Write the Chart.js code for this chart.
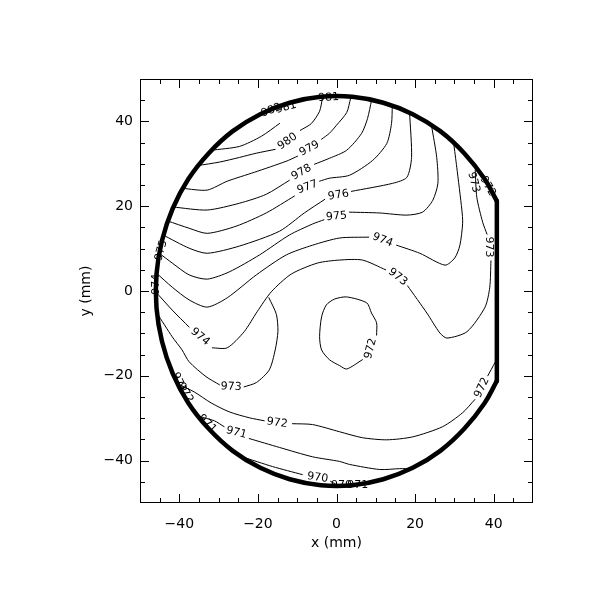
<!DOCTYPE html>
<html>
<head>
<meta charset="utf-8">
<script src="https://cdn.jsdelivr.net/npm/chart.js@4.4.0/dist/chart.umd.min.js"></script>
<style>
  html, body { margin: 0; padding: 0; background: #fff; }
</style>
</head>
<body>
<canvas id="chart_wafer" width="612" height="612"></canvas>
<script>
// wafer edge, mm
const outlineArc = [[40.8,21.2],[37.7,26.4],[32.5,32.5],[26.4,37.7],[19.4,41.7],[11.9,44.4],[4.0,45.8],[-4.0,45.8],[-11.9,44.4],[-19.4,41.7],[-26.4,37.7],[-32.5,32.5],[-37.7,26.4],[-41.7,19.4],[-44.4,11.9],[-45.8,4.0],[-45.8,-4.0],[-44.4,-11.9],[-41.7,-19.4],[-37.7,-26.4],[-32.5,-32.5],[-26.4,-37.7],[-19.4,-41.7],[-11.9,-44.4],[-4.0,-45.8],[4.0,-45.8],[11.9,-44.4],[19.4,-41.7],[26.4,-37.7],[32.5,-32.5],[37.7,-26.4],[40.8,-21.2]];
const outlineFlat = [[40.8,21.2],[40.8,-21.2]];

// contour lines (x, y in mm), split where the label sits
const c981 = [[[-31.9,33.2],[-24.7,34.1],[-19.1,36.5],[-14.5,39.5]]];
const c980 = [
  [[-35.2,29.6],[-29.8,30.4],[-24.7,31.5],[-20.4,32.5],[-15.6,33.4]],
  [[-9.2,37.9],[-6.4,39.5],[-4.3,42.4],[-3.6,45.4]]
];
const c979 = [
  [[-39.1,24.2],[-32.9,23.8],[-27.8,25.9],[-20.9,28.0],[-12.8,30.6],[-9.9,31.8]],
  [[-3.8,35.8],[-1.8,37.2],[0,39.1],[2.6,42.1],[3.6,45.5]]
];
const c978 = [
  [[-41.5,19.8],[-32.9,19.1],[-24.7,20.7],[-17.9,22.8],[-12.0,26.1]],
  [[-5.6,29.9],[-1.8,31.3],[2.6,33.2],[6.4,37.2],[7.9,40.7],[8.9,44.9]]
];
const c977 = [
  [[-42.9,16.5],[-37.5,14.8],[-32.9,13.6],[-25.5,15.3],[-17.9,18.4],[-10.7,22.4]],
  [[-4.3,25.9],[-1.8,26.6],[3.3,27.3],[9.2,30.8],[12.8,34.8],[14.0,39.5],[14.2,43.7]]
];
const c976 = [
  [[-44.1,13.2],[-37.5,10.1],[-32.9,8.9],[-24.7,10.6],[-14.5,14.1],[-8.2,18.4],[-3.0,21.6]],
  [[3.8,23.5],[14.3,25.4],[17.9,26.8],[19.1,31.5],[18.6,42.0]]
];
const c975 = [
  [[-45.1,8.9],[-41.8,6.6],[-37.5,3.8],[-32.9,2.8],[-27.3,4.5],[-19.6,8.5],[-12.0,13.2],[-6.1,15.8],[-3.2,16.8]],
  [[3.3,18.6],[11.0,18.4],[17.9,17.9],[21.9,18.6],[24.5,21.4],[25.8,25.4],[25.5,31.5],[24.2,38.9]]
];
const c974 = [
  [[-45.8,4.2],[-41.8,0.9],[-37.5,-2.1],[-32.9,-3.8],[-27.8,-1.6],[-20.4,3.8],[-12.8,8.5],[-6.1,10.8],[0.8,12.5],[8.2,12.7]],
  [[15.3,10.8],[21.2,8.9],[27.6,6.1],[30.1,7.8],[31.4,10.8],[32.1,16.0],[31.9,19.1],[30.6,29.2],[29.8,35.0]]
];
const c973 = [
  [[-46.0,-0.2],[-41.8,-4.5],[-37.5,-8.5]],
  [[-31.6,-13.4],[-27.8,-13.4],[-23.5,-9.6],[-20.2,-4.9],[-16.6,-0.2],[-11.5,4.0],[-4.8,6.6],[0.8,7.3],[6.6,7.3],[12.5,5.0]],
  [[18.1,1.2],[23.0,-5.2],[26.3,-9.9],[28.1,-11.1],[33.2,-9.6],[37.8,-3.8],[39.0,0.9],[39.3,7.1]],
  [[38.3,13.4],[37.2,16.2],[35.7,22.1],[35.3,28.5]]
];
const c973low = [
  [[-45.7,-5.2],[-41.8,-10.8],[-39.3,-13.9],[-37.5,-16.7],[-33.2,-20.2],[-29.8,-22.1]],
  [[-23.5,-22.6],[-20.4,-21.6],[-17.1,-18.6],[-15.6,-13.9],[-14.9,-9.5],[-15.3,-5.5],[-17.2,-1.6]]
];
const c972loop = [
  [[6.6,-16.2],[2.6,-18.4],[0.8,-17.6],[-1.8,-16.2],[-3.8,-13.9],[-4.3,-10.8],[-3.8,-6.1],[-2.6,-3.3],[-0.5,-1.9],[2.6,-1.4],[7.7,-2.8],[8.9,-5.2],[10.2,-7.5],[10.2,-10.4]]
];
const c972 = [
  [[40.8,-15.8],[40.3,-16.9],[38.5,-20.0]],
  [[35.2,-25.6],[32.1,-28.7],[27.0,-32.0],[19.4,-34.4],[12.8,-35.1],[6.6,-34.6],[0.8,-33.2],[-6.1,-31.5],[-11.2,-31.3]],
  [[-18.4,-30.6],[-22.2,-29.9],[-27.3,-28.5],[-31.9,-26.4],[-36.2,-23.8],[-40.2,-22.0]]
];
const c971 = [
  [[-35.0,-29.6],[-31.1,-30.6],[-28.6,-32.0]],
  [[-22.2,-34.8],[-14.5,-36.9],[-6.1,-39.1],[0.8,-40.2],[3.3,-40.9],[11.0,-42.1],[16.1,-41.9],[19.0,-41.9]]
];
const c970 = [
  [[-24.0,-39.1],[-16.3,-41.4],[-8.7,-43.3]],
  [[-1.5,-44.9],[-0.5,-45.4]]
];

// contour labels: text, x, y (mm)
const contourLabels = [
  ["982",-16.6,42.6],["981",-12.8,43.3],["981",-2.0,45.6],
  ["980",-12.5,35.3],["979",-6.9,33.6],["978",-8.9,28.0],["977",-7.4,24.5],
  ["976",0.5,22.6],["975",0.0,17.6],["974",11.7,12.0],["973",15.6,3.3],
  ["973",38.8,10.4],["973",34.9,25.6],["972",38.5,24.7],
  ["974",-34.7,-10.8],["973",-26.8,-22.6],["972",8.7,-13.6],
  ["972",-15.1,-31.1],["972",37.0,-22.8],["971",-25.5,-33.4],["970",-4.8,-44.0],
  ["975",-44.6,9.6],["974",-45.9,1.6],["973",-40.1,-21.6],["972",-38.5,-24.0],
  ["971",-32.9,-31.3],["970",1.3,-45.9],["971",5.4,-45.9]
];
const labelAngles = [-20,-15,-3,-35,-28,-30,-20,-10,-5,22,38,90,75,60,40,3,-75,8,-65,15,8,-75,-90,65,60,45,0,0];

const xTicks = [-40, -20, 0, 20, 40];
const yTicks = [-40, -20, 0, 20, 40];

const FONT = '"DejaVu Sans", sans-serif';

function pts(piece) {
  return piece.map(p => ({x: p[0], y: p[1]}));
}

function fmt(v) {
  return v < 0 ? '\u2212' + Math.abs(v) : String(v);
}

const contours = [c981, c980, c979, c978, c977, c976, c975, c974, c973, c973low, c972loop, c972, c971, c970];

let datasets = [
  {data: pts(outlineArc), borderWidth: 4.5, tension: 0.4},
  {data: pts(outlineFlat), borderWidth: 4.5, tension: 0}
];
contours.forEach(c => {
  c.forEach(piece => datasets.push({data: pts(piece), borderWidth: 1, tension: 0.25}));
});
datasets.forEach(d => {
  d.showLine = true;
  d.pointRadius = 0;
  d.borderColor = '#000';
  d.borderCapStyle = 'round';
  d.borderJoinStyle = 'round';
  d.fill = false;
});

// labels on the contours, box and inward ticks
const waferFrame = {
  id: 'waferFrame',
  afterDatasetsDraw(chart) {
    const {ctx, chartArea: a, scales: {x, y}} = chart;
    ctx.save();
    ctx.fillStyle = '#000';
    ctx.font = '11px ' + FONT;
    ctx.textAlign = 'center';
    ctx.textBaseline = 'middle';
    contourLabels.forEach((l, i) => {
      ctx.save();
      ctx.translate(x.getPixelForValue(l[1]), y.getPixelForValue(l[2]));
      ctx.rotate(labelAngles[i] * Math.PI / 180);
      ctx.fillText(l[0], 0, 0);
      ctx.restore();
    });

    ctx.strokeStyle = '#000';
    ctx.lineWidth = 1;
    ctx.strokeRect(a.left + 0.5, a.top + 0.5, a.right - a.left - 1, a.bottom - a.top - 1);
    ctx.beginPath();
    for (let v = -45; v <= 45; v += 5) {
      const len = v % 20 === 0 ? 9 : 5;
      const px = Math.round(x.getPixelForValue(v)) + 0.5;
      ctx.moveTo(px, a.bottom); ctx.lineTo(px, a.bottom - len);
      ctx.moveTo(px, a.top); ctx.lineTo(px, a.top + len);
      const py = Math.round(y.getPixelForValue(v)) + 0.5;
      ctx.moveTo(a.left, py); ctx.lineTo(a.left + len, py);
      ctx.moveTo(a.right, py); ctx.lineTo(a.right - len, py);
    }
    ctx.stroke();
    ctx.restore();
  }
};

new Chart(document.getElementById('chart_wafer'), {
  type: 'scatter',
  data: {datasets: datasets},
  options: {
    responsive: false,
    animation: false,
    events: [],
    layout: {padding: {top: 79, right: 79, bottom: 0, left: 0}},
    scales: {
      x: {
        type: 'linear', min: -50, max: 50,
        afterBuildTicks: s => { s.ticks = xTicks.map(v => ({value: v})); },
        afterFit: s => { s.height = 109; },
        grid: {display: false, drawTicks: false},
        border: {display: false},
        ticks: {padding: 13, color: '#000', autoSkip: false, maxRotation: 0,
                font: {family: FONT, size: 14}, callback: fmt},
        title: {display: true, text: 'x (mm)', color: '#000',
                font: {family: FONT, size: 14}, padding: {top: 0, bottom: 60}}
      },
      y: {
        type: 'linear', min: -50, max: 50,
        afterBuildTicks: s => { s.ticks = yTicks.map(v => ({value: v})); },
        afterFit: s => { s.width = 140; },
        grid: {display: false, drawTicks: false},
        border: {display: false},
        ticks: {padding: 7, color: '#000', autoSkip: false,
                font: {family: FONT, size: 14}, callback: fmt},
        title: {display: true, text: 'y (mm)', color: '#000',
                font: {family: FONT, size: 14}, padding: {top: 78, bottom: 0}}
      }
    },
    plugins: {
      legend: {display: false},
      tooltip: {enabled: false}
    }
  },
  plugins: [waferFrame]
});
</script>
</body>
</html>
